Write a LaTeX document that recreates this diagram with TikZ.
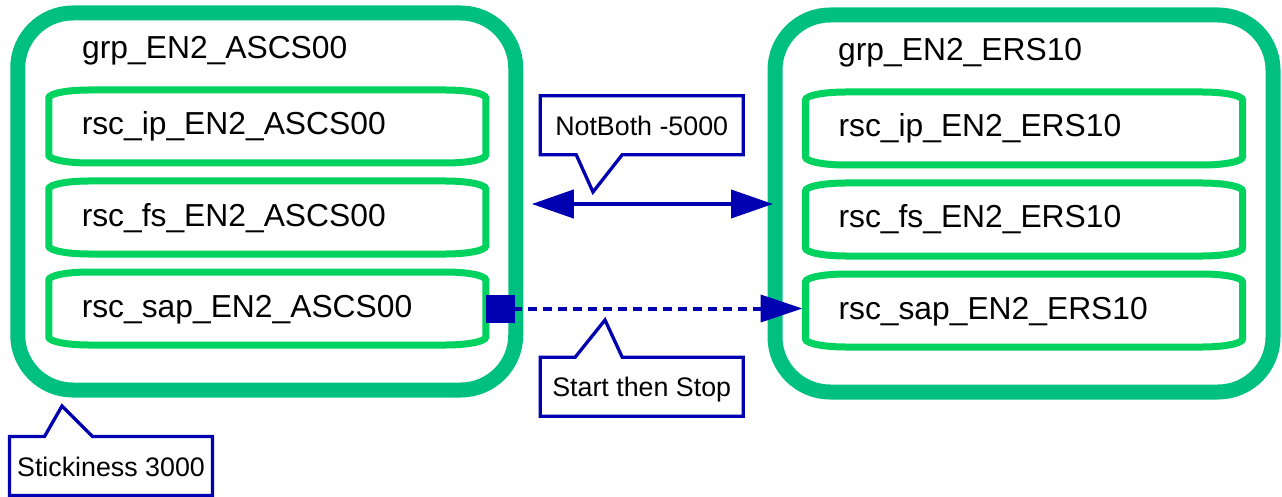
\documentclass[tikz,border=0pt]{standalone}
\usepackage{fontspec}
\setmainfont{Liberation Sans}
\usetikzlibrary{arrows.meta,positioning,calc}

\definecolor{grpgreen}{RGB}{0,192,128}
\definecolor{rscgreen}{RGB}{0,210,96}
\definecolor{ruleblue}{RGB}{0,0,176}

\begin{document}
\begin{tikzpicture}[
    x=1pt, y=-1pt,
    group/.style={rectangle, draw=grpgreen, line width=15pt, rounded corners=55pt, minimum width=498pt, minimum height=377pt, outer sep=0pt},
    title/.style={anchor=base west, inner sep=0pt, font=\fontsize{31.8}{36}\selectfont},
    rsc/.style={rectangle, minimum width=437pt, minimum height=73pt, text width=371pt, inner xsep=33pt, align=left, text height=23pt, text depth=6pt, outer sep=0pt, font=\fontsize{31.8}{36}\selectfont},
    rscline/.style={draw=rscgreen, line width=7pt},
    note/.style={rectangle, minimum width=203pt, minimum height=59pt, text height=24pt, text depth=4pt, inner sep=0pt, outer sep=0pt, font=\fontsize{26.8}{30}\selectfont},
    noteline/.style={draw=ruleblue, line width=3.3pt},
    both/.style={draw=ruleblue, line width=4pt, {Triangle[length=42pt,width=28pt]}-{Triangle[length=42pt,width=28pt]}},
    order/.style={draw=ruleblue, line width=4pt, dash pattern=on 9pt off 6pt, {Square[length=29pt,width=28pt]}-{Triangle[length=42pt,width=27pt]}}
]
\useasboundingbox (0,0) rectangle (1282,497);

% Groups
\node [group] (grpA) at (266.75,201.5) {};
\node [group] (grpB) at (1024,203.5) {};
\node [title] (grpAtitle) at (82,59) {grp\_EN2\_ASCS00};
\node [title] (grpBtitle) at (838,61) {grp\_EN2\_ERS10};

% Resources
\node [rsc] (rscAip) at (267.25,126.5) {rsc\_ip\_EN2\_ASCS00};
\node [rsc, below=18pt of rscAip] (rscAfs) {rsc\_fs\_EN2\_ASCS00};
\node [rsc, below=18pt of rscAfs] (rscAsap) {rsc\_sap\_EN2\_ASCS00};
\node [rsc] (rscBip) at (1024,128.5) {rsc\_ip\_EN2\_ERS10};
\node [rsc, below=18pt of rscBip] (rscBfs) {rsc\_fs\_EN2\_ERS10};
\node [rsc, below=18pt of rscBfs] (rscBsap) {rsc\_sap\_EN2\_ERS10};

% Resource outlines (flattened corners)
\foreach \n in {rscAip,rscAfs,rscAsap,rscBip,rscBfs,rscBsap}
  \draw [rscline] ([xshift=40pt]\n.north west) -- ([xshift=-40pt]\n.north east)
    arc [start angle=90, end angle=0, x radius=40pt, y radius=8pt]
    -- ([yshift=8pt]\n.south east)
    arc [start angle=0, end angle=-90, x radius=40pt, y radius=8pt]
    -- ([xshift=40pt]\n.south west)
    arc [start angle=270, end angle=180, x radius=40pt, y radius=8pt]
    -- ([yshift=-8pt]\n.north west)
    arc [start angle=180, end angle=90, x radius=40pt, y radius=8pt] -- cycle;

% Constraints
\coordinate (nbleft) at ([xshift=16pt,yshift=-2.5pt]grpA.east);
\draw [both] (nbleft) -- ($(nbleft -| grpB.west)+(-2,0)$);
\draw [order] (rscAsap.east) -- ($(rscAsap.east -| rscBsap.west)+(-3,0)$);

% Callouts
\node [note] (notboth) at (641.7,125.2) {NotBoth -5000};
\coordinate (notbothtip) at (593,192);
\draw [noteline] (notboth.north west) -- (notboth.north east) -- (notboth.south east)
  -- ([xshift=82pt]notboth.south west) -- (notbothtip) -- ([xshift=36pt]notboth.south west)
  -- (notboth.south west) -- cycle;

\node [note] (startstop) at (641.7,386.7) {Start then Stop};
\coordinate (startstoptip) at (605,320);
\draw [noteline] (startstop.south west) -- (startstop.north west)
  -- ([xshift=35pt]startstop.north west) -- (startstoptip) -- ([xshift=82pt]startstop.north west)
  -- (startstop.north east) -- (startstop.south east) -- cycle;

\node [note] (sticky) at (111,466) {Stickiness 3000};
\coordinate (stickytip) at (62,406);
\draw [noteline] (sticky.south west) -- (sticky.north west)
  -- ([xshift=35pt]sticky.north west) -- (stickytip) -- ([xshift=83pt]sticky.north west)
  -- (sticky.north east) -- (sticky.south east) -- cycle;

\end{tikzpicture}
\end{document}
